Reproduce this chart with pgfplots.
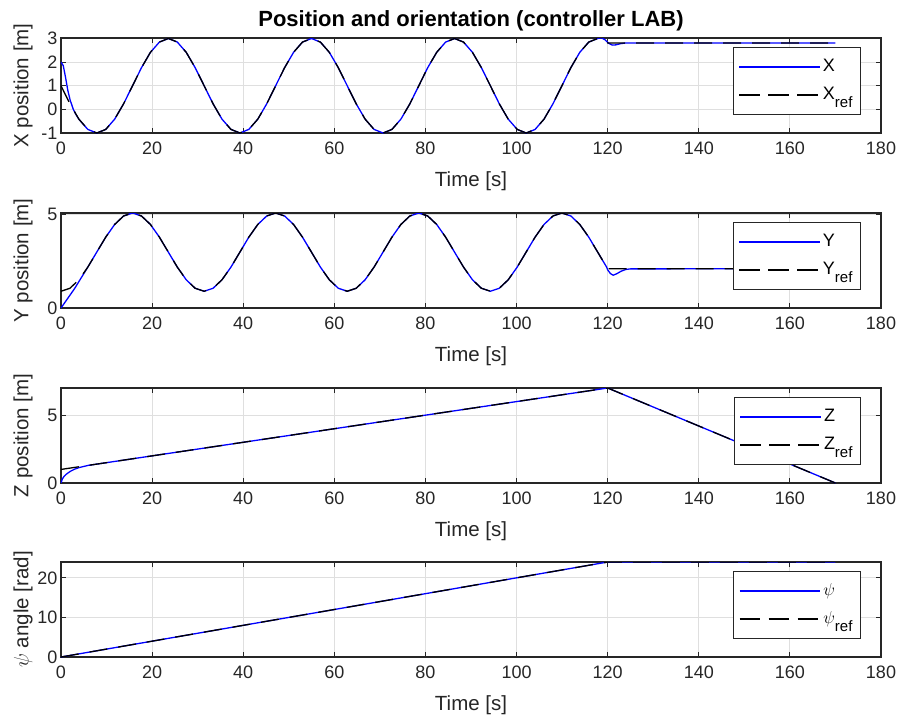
\documentclass[border=0pt]{standalone}
\usepackage{pgfplots}
\usepackage{pgfplotstable}
\pgfplotsset{compat=1.18}
\usepackage{fontspec}
\setmainfont{Liberation Sans}
\definecolor{axgray}{HTML}{262626}
\definecolor{gridgray}{HTML}{DFDFDF}
\newcommand{\sub}[1]{\raisebox{-8pt}{\fontsize{15}{15}\selectfont #1}}

\pgfplotstableread{
t xr yr
0.00 1.000 0.900
1.96 0.235 1.060
3.93 -0.414 1.515
5.89 -0.848 2.196
7.85 -1.000 3.000
9.82 -0.848 3.804
11.78 -0.414 4.485
13.74 0.235 4.940
15.71 1.000 5.100
17.67 1.765 4.940
19.63 2.414 4.485
21.60 2.848 3.804
23.56 3.000 3.000
25.53 2.848 2.196
27.49 2.414 1.515
29.45 1.765 1.060
31.42 1.000 0.900
33.38 0.235 1.060
35.34 -0.414 1.515
37.31 -0.848 2.196
39.27 -1.000 3.000
41.23 -0.848 3.804
43.20 -0.414 4.485
45.16 0.235 4.940
47.12 1.000 5.100
49.09 1.765 4.940
51.05 2.414 4.485
53.01 2.848 3.804
54.98 3.000 3.000
56.94 2.848 2.196
58.90 2.414 1.515
60.87 1.765 1.060
62.83 1.000 0.900
64.80 0.235 1.060
66.76 -0.414 1.515
68.72 -0.848 2.196
70.69 -1.000 3.000
72.65 -0.848 3.804
74.61 -0.414 4.485
76.58 0.235 4.940
78.54 1.000 5.100
80.50 1.765 4.940
82.47 2.414 4.485
84.43 2.848 3.804
86.39 3.000 3.000
88.36 2.848 2.196
90.32 2.414 1.515
92.28 1.765 1.060
94.25 1.000 0.900
96.21 0.235 1.060
98.17 -0.414 1.515
100.14 -0.848 2.196
102.10 -1.000 3.000
104.07 -0.848 3.804
106.03 -0.414 4.485
107.99 0.235 4.940
109.96 1.000 5.100
111.92 1.765 4.940
113.88 2.414 4.485
115.85 2.848 3.804
117.81 3.000 3.000
119.77 2.848 2.196
120.00 2.811 2.109
170.00 2.811 2.109
}\refdata

\pgfplotstableread{
t x
0.00 2.00
0.50 1.85
1.00 1.35
1.50 0.80
2.00 0.40
2.70 0.00
3.30 -0.22
3.93 -0.42
5.89 -0.848
7.85 -1.000
9.82 -0.848
11.78 -0.414
13.74 0.235
15.71 1.000
17.67 1.765
19.63 2.414
21.60 2.848
23.56 3.000
25.53 2.848
27.49 2.414
29.45 1.765
31.42 1.000
33.38 0.235
35.34 -0.414
37.31 -0.848
39.27 -1.000
41.23 -0.848
43.20 -0.414
45.16 0.235
47.12 1.000
49.09 1.765
51.05 2.414
53.01 2.848
54.98 3.000
56.94 2.848
58.90 2.414
60.87 1.765
62.83 1.000
64.80 0.235
66.76 -0.414
68.72 -0.848
70.69 -1.000
72.65 -0.848
74.61 -0.414
76.58 0.235
78.54 1.000
80.50 1.765
82.47 2.414
84.43 2.848
86.39 3.000
88.36 2.848
90.32 2.414
92.28 1.765
94.25 1.000
96.21 0.235
98.17 -0.414
100.14 -0.848
102.10 -1.000
104.07 -0.848
106.03 -0.414
107.99 0.235
109.96 1.000
111.92 1.765
113.88 2.414
115.85 2.848
117.81 3.000
118.60 3.03
119.40 2.95
120.20 2.80
121.00 2.72
121.80 2.73
122.80 2.78
124.00 2.81
170.00 2.81
}\xact

\pgfplotstableread{
t y
0.00 0.00
1.00 0.35
2.00 0.70
3.00 1.05
3.93 1.42
5.89 2.196
7.85 3.000
9.82 3.804
11.78 4.485
13.74 4.940
15.71 5.100
17.67 4.940
19.63 4.485
21.60 3.804
23.56 3.000
25.53 2.196
27.49 1.515
29.45 1.060
31.42 0.900
33.38 1.060
35.34 1.515
37.31 2.196
39.27 3.000
41.23 3.804
43.20 4.485
45.16 4.940
47.12 5.100
49.09 4.940
51.05 4.485
53.01 3.804
54.98 3.000
56.94 2.196
58.90 1.515
60.87 1.060
62.83 0.900
64.80 1.060
66.76 1.515
68.72 2.196
70.69 3.000
72.65 3.804
74.61 4.485
76.58 4.940
78.54 5.100
80.50 4.940
82.47 4.485
84.43 3.804
86.39 3.000
88.36 2.196
90.32 1.515
92.28 1.060
94.25 0.900
96.21 1.060
98.17 1.515
100.14 2.196
102.10 3.000
104.07 3.804
106.03 4.485
107.99 4.940
109.96 5.100
111.92 4.940
113.88 4.485
115.85 3.804
117.81 3.000
119.77 2.196
120.00 2.05
120.60 1.85
121.20 1.76
122.00 1.84
123.00 1.98
124.00 2.07
125.00 2.10
170.00 2.11
}\yact

\pgfplotsset{
  mystyle/.style={
    scale only axis, width=820pt, height=95pt,
    xmin=0, xmax=180, xtick={0,20,...,180},
    grid=major, major grid style={gridgray, line width=0.8pt},
    axis line style={axgray, line width=1.2pt},
    tick style={axgray, line width=1pt},
    tick align=inside, major tick length=5pt,
    tick label style={font=\fontsize{18}{21}\selectfont, text=axgray},
    /pgf/number format/assume math mode=true,
    label style={font=\fontsize{20.5}{24}\selectfont, text=axgray},
    xlabel={Time [s]},
    xlabel style={at={(axis description cs:0.5,0)}, anchor=north, yshift=-35pt},
    ylabel style={at={(axis description cs:0,0.5)}, anchor=center, yshift=38pt},
    x tick label style={yshift=-5pt},
    legend style={at={(rel axis cs:1,1)}, anchor=north east, xshift=-20pt, yshift=-9pt,
      draw=axgray, line width=1pt, fill=white, font=\fontsize{18}{21}\selectfont,
      inner sep=5.5pt,
      nodes={inner xsep=2.5pt, inner ysep=4pt, text height=14pt, text depth=6pt, text=black}},
    legend cell align=left,
    legend image code/.code={\path (0pt,0pt) -- (80.5pt,0pt); \draw[#1] (2.5pt,0pt) -- (78.5pt,0pt);},
  },
  actual/.style={draw=blue, color=blue, line width=1.3pt},
  reference/.style={draw=black, color=black, line width=1.3pt, dash pattern=on 18pt off 11pt},
}

\begin{document}
\begin{tikzpicture}
\path[use as bounding box] (0pt,0pt) rectangle (903pt,-718pt);

\begin{axis}[mystyle, at={(61pt,-133pt)}, anchor=south west,
  ymin=-1, ymax=3.02, ytick={-1,0,1,2,3},
  ylabel={X position [m]},
  title={Position and orientation (controller LAB)},
  title style={font=\bfseries\fontsize{22}{25}\selectfont, text=black, yshift=-3pt}]
\addplot[actual] table[x=t, y=x] {\xact};
\addlegendentry{X}
\addplot[reference] table[x=t, y=xr] {\refdata};
\addlegendentry{X\sub{ref}}
\end{axis}

\begin{axis}[mystyle, at={(61pt,-308pt)}, anchor=south west,
  ymin=0, ymax=5.1, ytick={0,5},
  ylabel={Y position [m]}]
\addplot[actual] table[x=t, y=y] {\yact};
\addlegendentry{Y}
\addplot[reference] table[x=t, y=yr] {\refdata};
\addlegendentry{Y\sub{ref}}
\end{axis}

\begin{axis}[mystyle, at={(61pt,-483pt)}, anchor=south west,
  ymin=0, ymax=7, ytick={0,5},
  ylabel={Z position [m]}]
\addplot[actual] coordinates {(0,0) (0.3,0.3) (0.7,0.5) (1.25,0.67) (2,0.85) (3,1.02) (4,1.14) (5,1.22) (6,1.3) (7,1.35) (120,7) (170,0)};
\addlegendentry{Z}
\addplot[reference] coordinates {(0,1) (120,7) (170,0)};
\addlegendentry{Z\sub{ref}}
\end{axis}

\begin{axis}[mystyle, at={(61pt,-657pt)}, anchor=south west,
  ymin=0, ymax=24, ytick={0,10,20},
  ylabel={$\psi$ angle [rad]}]
\addplot[actual] coordinates {(0,0) (120,24) (170,24)};
\addlegendentry{$\psi$}
\addplot[reference] coordinates {(0,0) (120,24) (170,24)};
\addlegendentry{$\psi$\sub{ref}}
\end{axis}
\end{tikzpicture}
\end{document}
